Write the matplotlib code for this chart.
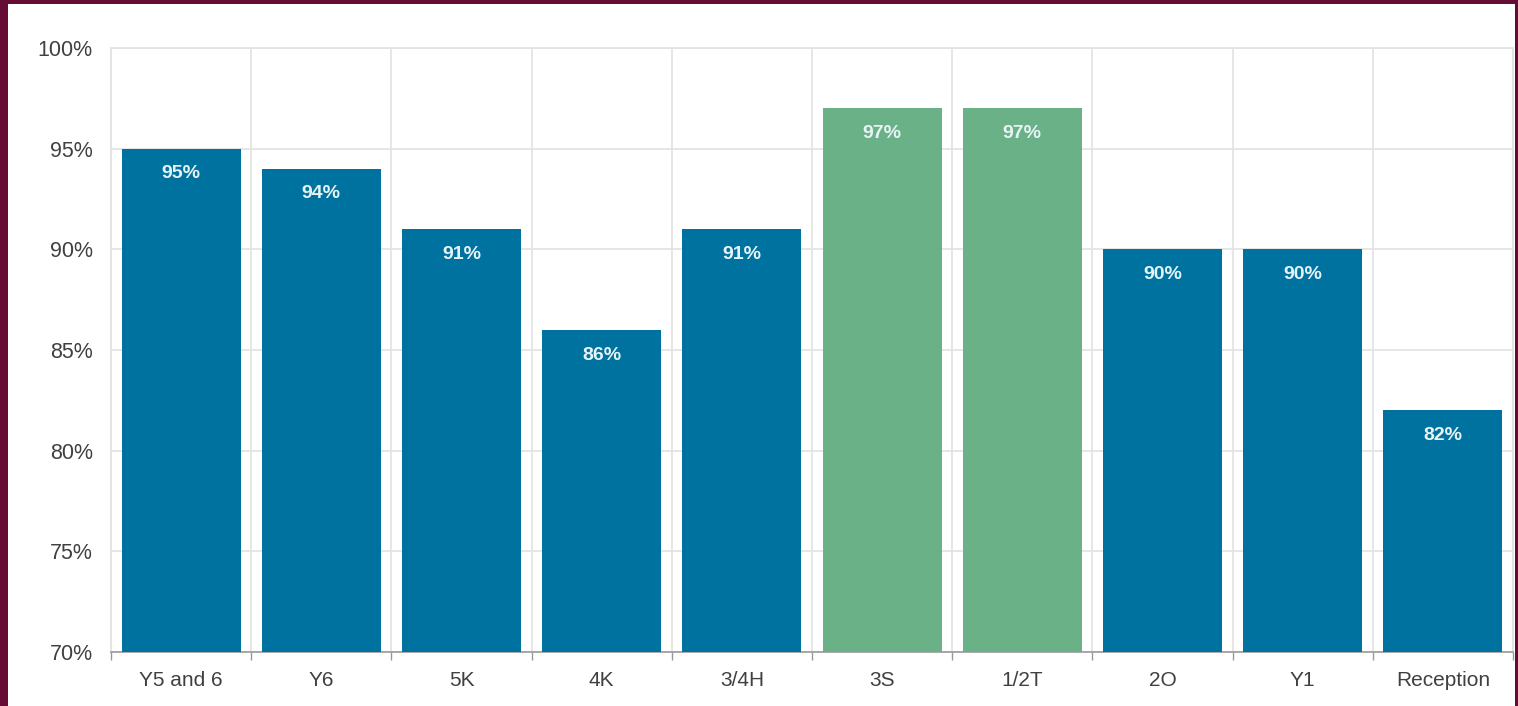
import matplotlib.pyplot as plt
from matplotlib.patches import Rectangle
import numpy as np

# -----------------------------
# Datos
classes = ["Y5 and 6", "Y6", "5K", "4K", "3/4H", "3S", "1/2T", "2O", "Y1", "Reception"]
attendance = [95, 94, 91, 86, 91, 97, 97, 90, 90, 82]
bar_colours = ["#0072a0", "#0072a0", "#0072a0", "#0072a0", "#0072a0",
               "#6ab187", "#6ab187", "#0072a0", "#0072a0", "#0072a0"]

plt.rcParams['font.family'] = ['Liberation Sans', 'DejaVu Sans']

# -----------------------------
# Figura con marco granate
fig = plt.figure(figsize=(15.18, 7.06), dpi=100, facecolor="#640c33")
fig.patches.append(Rectangle((8 / 1518, 0), 1507 / 1518, 702 / 706,
                             transform=fig.transFigure, facecolor="white",
                             edgecolor="none", zorder=-10))

ax = fig.add_axes([111 / 1518, 1 - 652 / 706, 1402 / 1518, 604 / 706])
ax.set_zorder(5)
ax.set_facecolor("white")

x = np.arange(len(classes))
bars = ax.bar(x, attendance, width=0.85, color=bar_colours, zorder=3)

for xi, val in zip(x, attendance):
    ax.text(xi, val - 1.25, f"{val}%", ha="center", va="center",
            color="#e6f3f7", fontsize=14, fontweight="bold", zorder=4)

ax.set_ylim(70, 100)
ax.set_xlim(-0.5, len(classes) - 0.5)
ax.set_yticks(range(70, 101, 5))
ax.set_yticklabels([f"{v}%" for v in range(70, 101, 5)])
ax.set_xticks(x)
ax.set_xticklabels(classes)
ax.set_xticks(np.arange(-0.5, len(classes), 1), minor=True)

ax.tick_params(axis="x", which="major", length=0, labelsize=15, labelcolor="#404040", pad=14)
ax.tick_params(axis="x", which="minor", length=6, color="#999999", width=1)
ax.tick_params(axis="y", length=0, labelsize=15.5, labelcolor="#404040", pad=13)

ax.grid(True, axis="y", color="#e2e2e2", linewidth=1.2, zorder=0)
ax.grid(True, axis="x", which="minor", color="#e2e2e2", linewidth=1.2, zorder=0)
ax.set_axisbelow(True)

for side in ["left", "top", "right"]:
    ax.spines[side].set_color("#e2e2e2")
    ax.spines[side].set_linewidth(1.2)
ax.spines["bottom"].set_color("#999999")
ax.spines["bottom"].set_linewidth(1.2)

# -----------------------------
# Guardar
fig.savefig("out.png", dpi=100, facecolor=fig.get_facecolor())
